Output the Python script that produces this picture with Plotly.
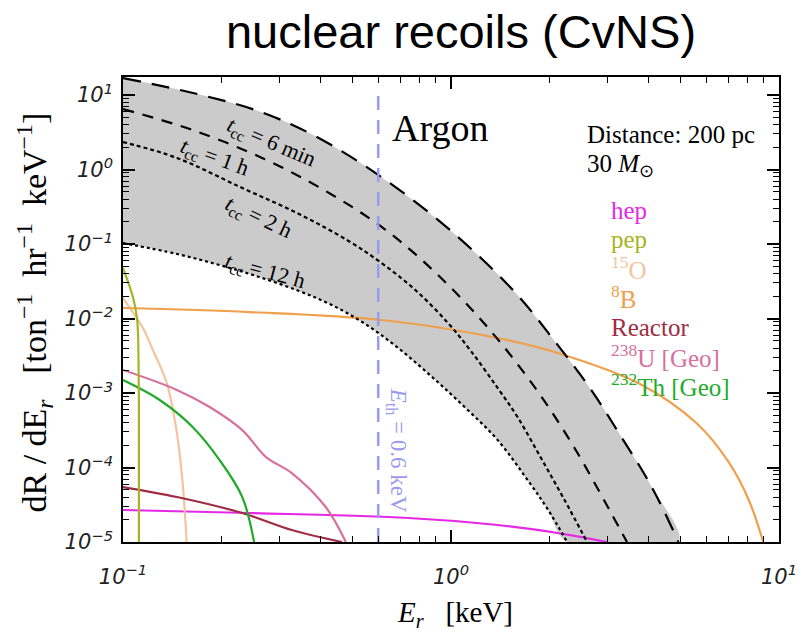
import plotly.graph_objects as go

# ---------------- data ----------------
t6min_x = [0.1, 0.1687, 0.2636, 0.390, 0.614, 1.0, 1.574, 2.08, 2.65, 3.25, 4.09, 4.94]
t6min_y = [16.9, 10.3, 5.91, 2.73, 0.79, 0.15, 0.022, 0.00484, 0.00117, 2.9e-4, 5.5e-5, 1.0e-5]

t1h_x = [0.1, 0.163, 0.2655, 0.415, 0.627, 0.926, 1.33, 1.835, 2.38, 3.03, 3.44]
t1h_y = [6.49, 3.39, 1.43, 0.514, 0.159, 0.0361, 0.00659, 0.00106, 1.83e-4, 2.77e-5, 1.0e-5]

t2h_x = [0.1, 0.146, 0.231, 0.344, 0.487, 0.614, 0.778, 0.979, 1.15, 1.387, 1.595, 1.874, 2.21, 2.60]
t2h_y = [2.34, 1.43, 0.565, 0.253, 0.110, 0.0556, 0.0242, 0.00871, 0.00366, 0.00117, 4.76e-4, 1.38e-4, 3.78e-5, 1.0e-5]

t12h_x = [0.1, 0.146, 0.197, 0.260, 0.344, 0.433, 0.548, 0.690, 0.869, 1.10, 1.387, 1.746, 1.97, 2.26]
t12h_y = [0.103, 0.0735, 0.0522, 0.0361, 0.0234, 0.0152, 0.00843, 0.00402, 0.00169, 6.49e-4, 2.34e-4, 6.01e-5, 2.77e-5, 1.0e-5]

hep_x = [0.1, 0.243, 0.741, 1.387, 2.11, 2.99]
hep_y = [2.69e-5, 2.45e-5, 2.10e-5, 1.69e-5, 1.32e-5, 1.0e-5]

pep_x = [0.1, 0.1072, 0.1102, 0.1110, 0.1118, 0.1118]
pep_y = [0.048, 0.0195, 0.0105, 0.00702, 8.05e-4, 1.0e-5]

o15_x = [0.1, 0.115, 0.1233, 0.136, 0.146, 0.152, 0.1563]
o15_y = [0.0188, 0.00745, 0.00378, 0.00136, 2.90e-4, 6.19e-5, 1.0e-5]

b8_x = [0.1, 0.243, 0.614, 1.387, 2.21, 3.77, 5.60, 7.05, 8.11, 8.95]
b8_y = [0.01384, 0.01222, 0.00955, 0.00547, 0.00324, 0.00132, 3.95e-4, 1.15e-4, 3.55e-5, 1.0e-5]

reactor_x = [0.1, 0.146, 0.231, 0.327, 0.465]
reactor_y = [5.47e-5, 4.02e-5, 2.45e-5, 1.45e-5, 1.0e-5]

u238_x = [0.1, 0.146, 0.1837, 0.231, 0.273, 0.327, 0.415, 0.478]
u238_y = [2.04e-3, 1.10e-3, 6.49e-4, 3.18e-4, 1.38e-4, 8.43e-5, 2.95e-5, 1.0e-5]

th232_x = [0.1, 0.1294, 0.163, 0.197, 0.231, 0.251]
th232_y = [1.49e-3, 8.05e-4, 3.50e-4, 1.26e-4, 4.02e-5, 1.0e-5]

e_th = 0.6
eth_y = [1.0e-5, 12.5]

legend_names = ["hep", "pep", "<sup>15</sup>O", "<sup>8</sup>B", "Reactor",
                "<sup>238</sup>U [Geo]", "<sup>232</sup>Th [Geo]"]
legend_colors = ["#e628e6", "#a8b424", "#f4c4a0", "#f0a04c", "#a02c44", "#d8709c", "#22aa2a"]

x_tickvals = [0.1, 1, 10]
x_ticktext = ["<i>10<sup>−1</sup></i>", "<i>10<sup>0</sup></i>", "<i>10<sup>1</sup></i>"]
y_tickvals = [1e-5, 1e-4, 1e-3, 1e-2, 1e-1, 1, 10]
y_ticktext = ["<i>10<sup>−5</sup></i>", "<i>10<sup>−4</sup></i>", "<i>10<sup>−3</sup></i>",
              "<i>10<sup>−2</sup></i>", "<i>10<sup>−1</sup></i>", "<i>10<sup>0</sup></i>",
              "<i>10<sup>1</sup></i>"]
minor_digits = [2, 3, 4, 5, 6, 7, 8, 9]
x_minor = [d * 10.0 ** k for k in (-1, 0) for d in minor_digits]
y_minor = [d * 10.0 ** k for k in range(-5, 2) for d in minor_digits]

# ---------------- figure ----------------
W, H = 809, 633
L, R, T, B = 123, 26, 77, 91
PW, PH = W - L - R, H - T - B

def px(x):
    return (x - L) / PW

def py(y):
    return (H - B - y) / PH

SERIF = "Liberation Serif"
fig = go.Figure()

band_x = t6min_x + t12h_x[::-1]
band_y = t6min_y + t12h_y[::-1]
fig.add_trace(go.Scatter(x=band_x, y=band_y, mode="lines", fill="toself",
                         fillcolor="#cbcbcb", line=dict(width=0, shape="spline", smoothing=1.0),
                         hoverinfo="skip", showlegend=False))

series = [
    (hep_x, hep_y, legend_colors[0]),
    (o15_x, o15_y, legend_colors[2]),
    (b8_x, b8_y, legend_colors[3]),
    (reactor_x, reactor_y, legend_colors[4]),
    (u238_x, u238_y, legend_colors[5]),
    (th232_x, th232_y, legend_colors[6]),
    (pep_x, pep_y, legend_colors[1]),
]
for xs, ys, c in series:
    fig.add_trace(go.Scatter(x=xs, y=ys, mode="lines",
                             line=dict(color=c, width=2.2, shape="spline", smoothing=1.0),
                             showlegend=False, hoverinfo="skip"))

for xs, ys, d in [(t6min_x, t6min_y, "18px,11px"), (t1h_x, t1h_y, "11px,9px"),
                  (t2h_x, t2h_y, "4px,3px"), (t12h_x, t12h_y, "3px,3px")]:
    fig.add_trace(go.Scatter(x=xs, y=ys, mode="lines",
                             line=dict(color="black", width=2.2, dash=d, shape="spline", smoothing=1.0),
                             showlegend=False, hoverinfo="skip"))

fig.add_trace(go.Scatter(x=[e_th, e_th], y=eth_y, mode="lines",
                         line=dict(color="#9a9af0", width=2.5, dash="14px,10px"),
                         showlegend=False, hoverinfo="skip"))

ann = []
def text(x, y, s, size, color="black", anchor="center", angle=0):
    ann.append(dict(x=px(x), y=py(y), xref="paper", yref="paper", text=s, showarrow=False,
                    font=dict(family=SERIF, size=size, color=color), xanchor=anchor,
                    yanchor="middle", textangle=angle))

text(442, 128, "Argon", 38)
text(588, 134, "Distance: 200 pc", 25, anchor="left")
text(588, 165, "30 <i>M</i><sub>⊙</sub>", 25, anchor="left")
legend_y = [210, 239, 268, 297, 327, 356, 385]
for name, col, yy in zip(legend_names, legend_colors, legend_y):
    text(612, yy, name, 25, color=col, anchor="left")

text(272, 143, "<i>t</i><sub>cc</sub> = 6 min", 22, angle=23)
text(215, 158, "<i>t</i><sub>cc</sub> = 1 h", 22, angle=20)
text(259, 218, "<i>t</i><sub>cc</sub> = 2 h", 22, angle=25)
text(266, 272, "<i>t</i><sub>cc</sub> = 12 h", 22, angle=15)
text(399, 450, "<i>E</i><sub>th</sub> = 0.6 keV", 23, color="#9a9af0", angle=90)

text(457, 614, "<i>E</i><sub><i>r</i></sub>   [keV]", 29)
text(33, 313, "dR / dE<sub><i>r</i></sub>   [ton<sup>−1</sup>  hr<sup>−1</sup>  keV<sup>−1</sup>]", 34, angle=-90)

tickfont = dict(family="DejaVu Sans", size=21, color="#222")
axis_common = dict(type="log", showline=True, linecolor="black", linewidth=1.6,
                   mirror="allticks", ticks="inside", ticklen=12, tickwidth=1.5,
                   tickcolor="black", tickmode="array",
                   tickfont=tickfont, showgrid=False, zeroline=False)

fig.update_layout(
    width=W, height=H,
    margin=dict(l=L, r=R, t=T, b=B),
    paper_bgcolor="white", plot_bgcolor="white",
    title=dict(text="nuclear recoils (CvNS)", x=461 / W, xanchor="center",
               y=1 - 32 / H, yanchor="middle",
               font=dict(family="Liberation Sans", size=47, color="black")),
    xaxis=dict(range=[-1, 1], tickvals=x_tickvals, ticktext=x_ticktext, ticklabelstandoff=15,
               minor=dict(tickmode="array", tickvals=x_minor, ticks="inside", ticklen=6,
                          tickwidth=1.2, tickcolor="black", showgrid=False),
               **axis_common),
    yaxis=dict(range=[-5, 1.242], tickvals=y_tickvals, ticktext=y_ticktext, ticklabelstandoff=4,
               minor=dict(tickmode="array", tickvals=y_minor, ticks="inside", ticklen=6,
                          tickwidth=1.2, tickcolor="black", showgrid=False),
               **axis_common),
    annotations=ann,
)

fig.write_html("out.html")
